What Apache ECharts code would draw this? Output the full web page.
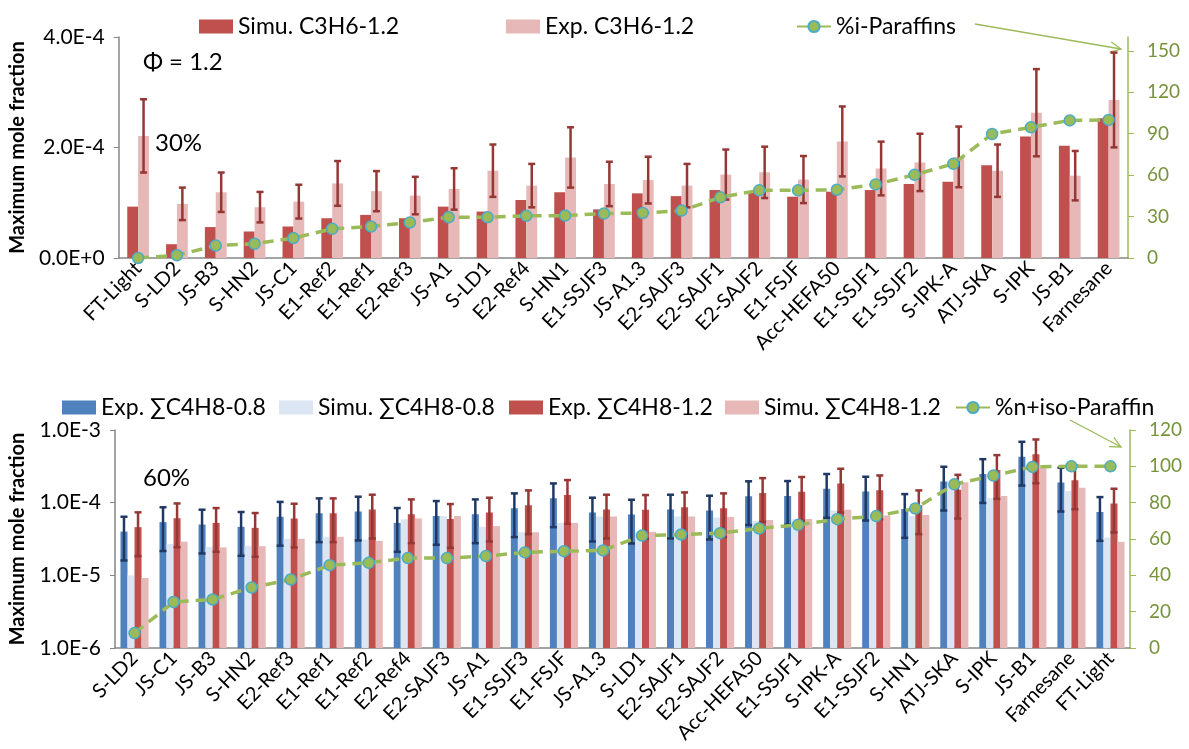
<!DOCTYPE html>
<html><head><meta charset="utf-8">
<script src="https://cdn.jsdelivr.net/npm/echarts@6/dist/echarts.min.js"></script>
<style>html,body{margin:0;padding:0;background:#fff}#c{width:1189px;height:749px}</style>
</head><body><div id="c"></div>
<script>
// ---------- Top chart data (C3H6, phi = 1.2) ----------
const topCategories = ['FT-Light','S-LD2','JS-B3','S-HN2','JS-C1','E1-Ref2','E1-Ref1','E2-Ref3','JS-A1','S-LD1','E2-Ref4','S-HN1','E1-SSJF3','JS-A1.3','E2-SAJF3','E2-SAJF1','E2-SAJF2','E1-FSJF','Acc-HEFA50','E1-SSJF1','E1-SSJF2','S-IPK-A','ATJ-SKA','S-IPK','JS-B1','Farnesane'];
const simuC3H6 = [0.93e-4,0.25e-4,0.56e-4,0.48e-4,0.57e-4,0.72e-4,0.78e-4,0.72e-4,0.93e-4,0.84e-4,1.05e-4,1.19e-4,0.88e-4,1.17e-4,1.12e-4,1.23e-4,1.20e-4,1.11e-4,1.20e-4,1.23e-4,1.34e-4,1.38e-4,1.68e-4,2.20e-4,2.03e-4,2.53e-4];
const expC3H6 = [2.21e-4,0.98e-4,1.19e-4,0.92e-4,1.02e-4,1.35e-4,1.21e-4,1.13e-4,1.25e-4,1.58e-4,1.31e-4,1.82e-4,1.34e-4,1.41e-4,1.31e-4,1.51e-4,1.55e-4,1.42e-4,2.11e-4,1.62e-4,1.73e-4,1.83e-4,1.58e-4,2.63e-4,1.49e-4,2.86e-4];
const iParaffins = [0,2,9,10.3,14.4,21.1,22.8,25.7,29.5,29.5,30.5,30.7,32.2,32.6,34.3,43.9,49,49,49.4,53.3,60.2,68.2,89.8,94.6,99.6,100];
const topErrFraction = 0.30; // "30%" error bars on the experimental values
const topLeftTicks = {min: 0, max: 4e-4, interval: 2e-4};
const topRightTicks = {min: 0, max: 160, interval: 30};

// ---------- Bottom chart data (sum C4H8) ----------
const botCategories = ['S-LD2','JS-C1','JS-B3','S-HN2','E2-Ref3','E1-Ref1','E1-Ref2','E2-Ref4','E2-SAJF3','JS-A1','E1-SSJF3','E1-FSJF','JS-A1.3','S-LD1','E2-SAJF1','E2-SAJF2','Acc-HEFA50','E1-SSJF1','S-IPK-A','E1-SSJF2','S-HN1','ATJ-SKA','S-IPK','JS-B1','Farnesane','FT-Light'];
const expC4H8_08 = [4.0e-5,5.4e-5,5.0e-5,4.65e-5,6.4e-5,7.16e-5,7.55e-5,5.27e-5,6.58e-5,6.93e-5,8.39e-5,1.15e-4,7.31e-5,6.86e-5,8.04e-5,7.79e-5,1.23e-4,1.24e-4,1.55e-4,1.42e-4,8.2e-5,1.95e-4,2.48e-4,4.3e-4,1.89e-4,7.46e-5];
const simuC4H8_08 = [1.0e-5,2.7e-5,2.47e-5,2.55e-5,3.18e-5,3.39e-5,3.11e-5,5.92e-5,6.58e-5,4.65e-5,3.92e-5,5.27e-5,6.44e-5,3.97e-5,6.44e-5,6.24e-5,5.61e-5,5.92e-5,7.79e-5,6.6e-5,6.58e-5,1.75e-4,1.15e-4,3.13e-4,1.45e-4,3.31e-5];
const expC4H8_12 = [4.6e-5,6.1e-5,5.27e-5,4.5e-5,6.04e-5,7.16e-5,8.04e-5,6.93e-5,5.98e-5,7.31e-5,9.22e-5,1.28e-4,8.04e-5,7.96e-5,8.65e-5,8.39e-5,1.36e-4,1.41e-4,1.83e-4,1.48e-4,9.22e-5,1.51e-4,2.82e-4,4.63e-4,2.03e-4,9.72e-5];
const simuC4H8_12 = [9.2e-6,2.9e-5,2.42e-5,2.52e-5,3.18e-5,3.39e-5,2.98e-5,6.04e-5,6.58e-5,4.75e-5,3.92e-5,5.27e-5,6.44e-5,3.97e-5,6.44e-5,6.37e-5,5.79e-5,5.98e-5,7.96e-5,6.65e-5,6.79e-5,1.91e-4,1.24e-4,3.24e-4,1.6e-4,2.89e-5];
const nIsoParaffin = [8.2,25.3,26.7,33.3,37.7,45.6,46.9,49.5,49.5,50.6,52.6,53.3,53.7,61.9,62.5,63.2,65.8,67.8,70.9,72.6,76.8,90.1,94.9,99.7,100,100];
const botErrFraction = 0.60; // "60%" error bars on the experimental values
const botLogDecades = {min: 1e-6, max: 1e-3};
const botRightTicks = {min: 0, max: 120, interval: 20};

// ---------- styling ----------
const FONT = 'Lato, "Liberation Sans", sans-serif';
const C = {darkRed:'#C0504D', pink:'#E6B9B8', blue:'#4F81BD', lightBlue:'#DCE6F2',
  green:'#9BBB59', greenText:'#77933C', cyan:'#4BACC6', errRed:'#953735', errBlue:'#1F3864', axis:'#868686'};

const chart = echarts.init(document.getElementById('c'), null, {renderer:'canvas'});

// log10 transform for the bottom value axis (bars need a finite base)
const L0 = Math.log10(botLogDecades.min);
const toLog = v => Math.log10(v) - L0;
const sci = v => v.toExponential(1).toUpperCase();

function errSeries(name, xi, yi, data, offsetFrac, color) {
  return {
    name, type:'custom', xAxisIndex:xi, yAxisIndex:yi, z:5, silent:true,
    data, encode:{x:0, y:[1,2]},
    renderItem(params, api) {
      const i = api.value(0);
      const pHi = api.coord([i, api.value(2)]);
      const pLo = api.coord([i, api.value(1)]);
      const bw = api.size([1, 0])[0];
      const cx = pHi[0] + bw * offsetFrac;
      const cap = 3.5;
      const st = {stroke: color, lineWidth: 2.5};
      return {type:'group', children:[
        {type:'line', shape:{x1:cx, y1:pHi[1], x2:cx, y2:pLo[1]}, style:st},
        {type:'line', shape:{x1:cx-cap, y1:pHi[1], x2:cx+cap, y2:pHi[1]}, style:st},
        {type:'line', shape:{x1:cx-cap, y1:pLo[1], x2:cx+cap, y2:pLo[1]}, style:st}
      ]};
    }
  };
}

const topBarW = 0.28, botBarW = 0.18;

const topErr = expC3H6.map((v,i) => [i, v*(1-topErrFraction), v*(1+topErrFraction)]);
const botErr08 = expC4H8_08.map((v,i) => [i, toLog(v*(1-botErrFraction)), toLog(v*(1+botErrFraction))]);
const botErr12 = expC4H8_12.map((v,i) => [i, toLog(v*(1-botErrFraction)), toLog(v*(1+botErrFraction))]);

const xLabel = {interval:0, rotate:46, fontSize:20, color:'#000', fontFamily:FONT, margin:7};
const axisLine = {lineStyle:{color:C.axis, width:1.5}};
const lineStyleSeries = (name, xi, yi, data) => ({
  name, type:'line', xAxisIndex:xi, yAxisIndex:yi, data, z:6,
  symbol:'circle', symbolSize:11,
  itemStyle:{color:C.green, borderColor:C.cyan, borderWidth:1.5},
  lineStyle:{color:C.green, width:3.5, type:[11,7]}
});

function arrow(x1,y1,x2,y2){
  const a = Math.atan2(y2-y1, x2-x1), h = 12, s = 0.45;
  return [
    {type:'line', shape:{x1,y1,x2,y2}, style:{stroke:C.green, lineWidth:1.3}},
    {type:'polyline', shape:{points:[[x2-h*Math.cos(a-s), y2-h*Math.sin(a-s)],[x2,y2],[x2-h*Math.cos(a+s), y2-h*Math.sin(a+s)]]}, style:{stroke:C.green, lineWidth:1.3, fill:null}}
  ];
}

const legendBase = {itemWidth:34, itemHeight:14, textStyle:{fontSize:23, color:'#000', fontFamily:FONT}};
const lg = (top, left, item) => ({...legendBase, top, left, data:[item]});
const yName = {fontSize:20, fontWeight:'bold', color:'#000', fontFamily:FONT};
const option = {
  animation:false,
  textStyle:{fontFamily:FONT},
  grid:[
    {left:114, right:61, top:37, height:221, containLabel:false},
    {left:114, right:59, top:430, height:218, containLabel:false}
  ],
  legend:[
    lg(10, 194, {name:'Simu. C3H6-1.2', icon:'rect'}),
    lg(10, 501, {name:'Exp. C3H6-1.2', icon:'rect'}),
    lg(10, 791, {name:'%i-Paraffins', lineStyle:{type:'solid'}}),
    lg(391, 57, {name:'Exp. ∑C4H8-0.8', icon:'rect'}),
    lg(391, 274, {name:'Simu. ∑C4H8-0.8', icon:'rect'}),
    lg(391, 504, {name:'Exp. ∑C4H8-1.2', icon:'rect'}),
    lg(391, 720, {name:'Simu. ∑C4H8-1.2', icon:'rect'}),
    lg(391, 950, {name:'%n+iso-Paraffin', lineStyle:{type:'solid'}})
  ],
  xAxis:[
    {type:'category', gridIndex:0, data:topCategories, axisLine, axisTick:{length:6, lineStyle:{color:C.axis}}, axisLabel:xLabel},
    {type:'category', gridIndex:1, data:botCategories, axisLine, axisTick:{length:6, lineStyle:{color:C.axis}}, axisLabel:xLabel}
  ],
  yAxis:[
    {type:'value', gridIndex:0, min:topLeftTicks.min, max:topLeftTicks.max, interval:topLeftTicks.interval,
     name:'Maximum mole fraction', nameLocation:'middle', nameGap:87, nameTextStyle:yName,
     axisLine:{show:true, lineStyle:{color:C.axis, width:1.5}}, axisTick:{show:true, length:5, lineStyle:{color:C.axis}},
     splitLine:{show:false}, axisLabel:{fontSize:21, color:'#000', formatter:sci, margin:14}},
    {type:'value', gridIndex:0, position:'right', min:topRightTicks.min, max:topRightTicks.max, interval:topRightTicks.interval,
     axisLine:{show:true, lineStyle:{color:C.green, width:1.5}}, axisTick:{show:true, length:6, lineStyle:{color:C.green}},
     splitLine:{show:false}, axisLabel:{fontSize:19, color:C.greenText, showMaxLabel:false, margin:19}},
    {type:'value', gridIndex:1, min:0, max:toLog(botLogDecades.max), interval:1,
     name:'Maximum mole fraction', nameLocation:'middle', nameGap:87, nameTextStyle:yName,
     axisLine:{show:true, lineStyle:{color:C.axis, width:1.5}}, axisTick:{show:true, length:5, lineStyle:{color:C.axis}},
     splitLine:{show:false}, axisLabel:{fontSize:21, color:'#000', margin:14, formatter:v => sci(Math.pow(10, v + L0))}},
    {type:'value', gridIndex:1, position:'right', min:botRightTicks.min, max:botRightTicks.max, interval:botRightTicks.interval,
     axisLine:{show:true, lineStyle:{color:C.green, width:1.5}}, axisTick:{show:true, length:6, lineStyle:{color:C.green}},
     splitLine:{show:false}, axisLabel:{fontSize:19, color:C.greenText, margin:19}}
  ],
  series:[
    {name:'Simu. C3H6-1.2', type:'bar', xAxisIndex:0, yAxisIndex:0, data:simuC3H6, barWidth:(topBarW*100)+'%', barGap:'0%', itemStyle:{color:C.darkRed}},
    {name:'Exp. C3H6-1.2', type:'bar', xAxisIndex:0, yAxisIndex:0, data:expC3H6, barWidth:(topBarW*100)+'%', barGap:'0%', itemStyle:{color:C.pink}},
    errSeries('errTop', 0, 0, topErr, topBarW/2, C.errRed),
    lineStyleSeries('%i-Paraffins', 0, 1, iParaffins),

    {name:'Exp. ∑C4H8-0.8', type:'bar', xAxisIndex:1, yAxisIndex:2, data:expC4H8_08.map(toLog), barWidth:(botBarW*100)+'%', barGap:'0%', itemStyle:{color:C.blue}},
    {name:'Simu. ∑C4H8-0.8', type:'bar', xAxisIndex:1, yAxisIndex:2, data:simuC4H8_08.map(toLog), barWidth:(botBarW*100)+'%', barGap:'0%', itemStyle:{color:C.lightBlue}},
    {name:'Exp. ∑C4H8-1.2', type:'bar', xAxisIndex:1, yAxisIndex:2, data:expC4H8_12.map(toLog), barWidth:(botBarW*100)+'%', barGap:'0%', itemStyle:{color:C.darkRed}},
    {name:'Simu. ∑C4H8-1.2', type:'bar', xAxisIndex:1, yAxisIndex:2, data:simuC4H8_12.map(toLog), barWidth:(botBarW*100)+'%', barGap:'0%', itemStyle:{color:C.pink}},
    errSeries('errBot08', 1, 2, botErr08, -1.5*botBarW, C.errBlue),
    errSeries('errBot12', 1, 2, botErr12, 0.5*botBarW, C.errRed),
    lineStyleSeries('%n+iso-Paraffin', 1, 3, nIsoParaffin)
  ],
  graphic:[
    {type:'text', left:143, top:50, style:{text:'Φ = 1.2', fontSize:24, fill:'#000', fontFamily:FONT}},
    {type:'text', left:155, top:131, style:{text:'30%', fontSize:24, fill:'#000', fontFamily:FONT}},
    {type:'text', left:143, top:466, style:{text:'60%', fontSize:24, fill:'#000', fontFamily:FONT}},
    ...arrow(975, 24, 1121, 49),
    ...arrow(1070, 420, 1121, 447)
  ]
};
chart.setOption(option);
</script></body></html>
